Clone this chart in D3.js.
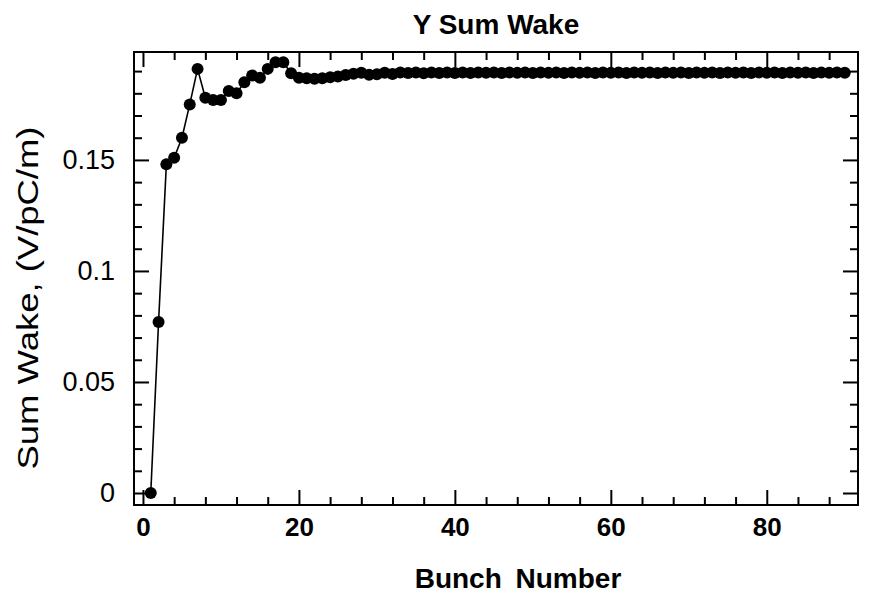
<!DOCTYPE html>
<html>
<head>
<meta charset="utf-8">
<script src="https://cdn.jsdelivr.net/npm/d3@7"></script>
<style>
  body { margin: 0; background: #fff; }
  text { font-family: "Liberation Sans", Arial, Helvetica, sans-serif; fill: #000; }
</style>
</head>
<body>
<div id="chart"></div>
<script>
// bunch index and summed wake (V/pC/m)
const bunchNumbers = [
  1, 2, 3, 4, 5, 6, 7, 8, 9, 10,
  11, 12, 13, 14, 15, 16, 17, 18, 19, 20,
  21, 22, 23, 24, 25, 26, 27, 28, 29, 30,
  31, 32, 33, 34, 35, 36, 37, 38, 39, 40,
  41, 42, 43, 44, 45, 46, 47, 48, 49, 50,
  51, 52, 53, 54, 55, 56, 57, 58, 59, 60,
  61, 62, 63, 64, 65, 66, 67, 68, 69, 70,
  71, 72, 73, 74, 75, 76, 77, 78, 79, 80,
  81, 82, 83, 84, 85, 86, 87, 88, 89, 90
];
const sumWake = [
  0.000, 0.077, 0.148, 0.151, 0.160, 0.175, 0.191, 0.178, 0.177, 0.177,
  0.181, 0.180, 0.185, 0.188, 0.187, 0.191, 0.194, 0.194, 0.189, 0.187,
  0.1868, 0.1866, 0.1868, 0.1872, 0.1876, 0.1882, 0.1888, 0.1893, 0.1883, 0.1886,
  0.1893, 0.1887, 0.1894, 0.1891, 0.1894, 0.1890, 0.1894, 0.1891, 0.1894, 0.1891,
  0.1894, 0.1891, 0.1894, 0.1892, 0.1894, 0.1891, 0.1894, 0.1892, 0.1894, 0.1891,
  0.1894, 0.1892, 0.1894, 0.1891, 0.1894, 0.1892, 0.1894, 0.1891, 0.1894, 0.1892,
  0.1894, 0.1891, 0.1894, 0.1892, 0.1894, 0.1891, 0.1894, 0.1892, 0.1894, 0.1891,
  0.1894, 0.1892, 0.1894, 0.1891, 0.1894, 0.1892, 0.1894, 0.1891, 0.1894, 0.1892,
  0.1894, 0.1891, 0.1894, 0.1892, 0.1894, 0.1891, 0.1894, 0.1892, 0.1894, 0.1893
];
const xTickValues = [0, 20, 40, 60, 80];
const yTickValues = [0, 0.05, 0.1, 0.15];
const yTickLabels = ['0', '0.05', '0.1', '0.15'];

const data = bunchNumbers.map((b, i) => ({bunch: b, wake: sumWake[i]}));

const width = 875;
const height = 602;
const plot = {left: 134, right: 858, top: 52, bottom: 505};

const svg = d3.select('#chart')
    .append('svg')
    .attr('width', width)
    .attr('height', height);

const x = d3.scaleLinear()
    .domain([-1.15, 91.7])
    .range([plot.left, plot.right]);

const y = d3.scaleLinear()
    .domain([-0.0054, 0.1986])
    .range([plot.bottom, plot.top]);

const xMinor = d3.range(0, 92, 4).filter(v => v % 20 !== 0);
const yMinor = d3.range(0, 0.2, 0.01).map(v => +v.toFixed(2)).filter(v => Math.round(v * 100) % 5 !== 0);

function drawAxis(axis, transform) {
    const g = svg.append('g')
        .attr('transform', transform)
        .call(axis);
    g.select('.domain').remove();
    g.selectAll('line').attr('stroke', '#000').attr('stroke-width', 2);
    return g;
}

// bottom
drawAxis(d3.axisBottom(x).tickValues(xMinor).tickSize(-8).tickFormat(''),
    `translate(0,${plot.bottom})`);
drawAxis(d3.axisBottom(x).tickValues(xTickValues).tickSize(-15).tickPadding(13),
    `translate(0,${plot.bottom})`)
    .selectAll('text')
    .style('font-size', '26px')
    .style('font-weight', 'bold');

// top
drawAxis(d3.axisTop(x).tickValues(xMinor).tickSize(-8).tickFormat(''),
    `translate(0,${plot.top})`);
drawAxis(d3.axisTop(x).tickValues(xTickValues).tickSize(-15).tickFormat(''),
    `translate(0,${plot.top})`);

// left
drawAxis(d3.axisLeft(y).tickValues(yMinor).tickSize(-8).tickFormat(''),
    `translate(${plot.left},0)`);
drawAxis(d3.axisLeft(y).tickValues(yTickValues).tickSize(-15).tickPadding(19)
        .tickFormat((d, i) => yTickLabels[i]),
    `translate(${plot.left},0)`)
    .selectAll('text')
    .style('font-size', '27px');

// right
drawAxis(d3.axisRight(y).tickValues(yMinor).tickSize(-8).tickFormat(''),
    `translate(${plot.right},0)`);
drawAxis(d3.axisRight(y).tickValues(yTickValues).tickSize(-15).tickFormat(''),
    `translate(${plot.right},0)`);

// frame
svg.append('rect')
    .attr('x', plot.left)
    .attr('y', plot.top)
    .attr('width', plot.right - plot.left)
    .attr('height', plot.bottom - plot.top)
    .attr('fill', 'none')
    .attr('stroke', '#000')
    .attr('stroke-width', 2);

const line = d3.line()
    .x(d => x(d.bunch))
    .y(d => y(d.wake));

svg.append('path')
    .datum(data)
    .attr('fill', 'none')
    .attr('stroke', '#000')
    .attr('stroke-width', 1.6)
    .attr('d', line);

svg.selectAll('circle')
    .data(data)
    .enter()
    .append('circle')
    .attr('cx', d => x(d.bunch))
    .attr('cy', d => y(d.wake))
    .attr('r', 6)
    .attr('fill', '#000');

// titles
svg.append('text')
    .attr('x', (plot.left + plot.right) / 2)
    .attr('y', 34)
    .attr('text-anchor', 'middle')
    .style('font-size', '28px')
    .style('font-weight', 'bold')
    .text('Y Sum Wake');

svg.append('text')
    .attr('x', 518)
    .attr('y', 588)
    .attr('text-anchor', 'middle')
    .style('font-size', '28px')
    .style('font-weight', 'bold')
    .style('word-spacing', '6px')
    .text('Bunch Number');

svg.append('text')
    .attr('transform', 'translate(28,298) rotate(-90)')
    .attr('text-anchor', 'middle')
    .attr('dy', '0.35em')
    .attr('textLength', 343)
    .attr('lengthAdjust', 'spacingAndGlyphs')
    .style('font-size', '29px')
    .text('Sum Wake, (V/pC/m)');
</script>
</body>
</html>
